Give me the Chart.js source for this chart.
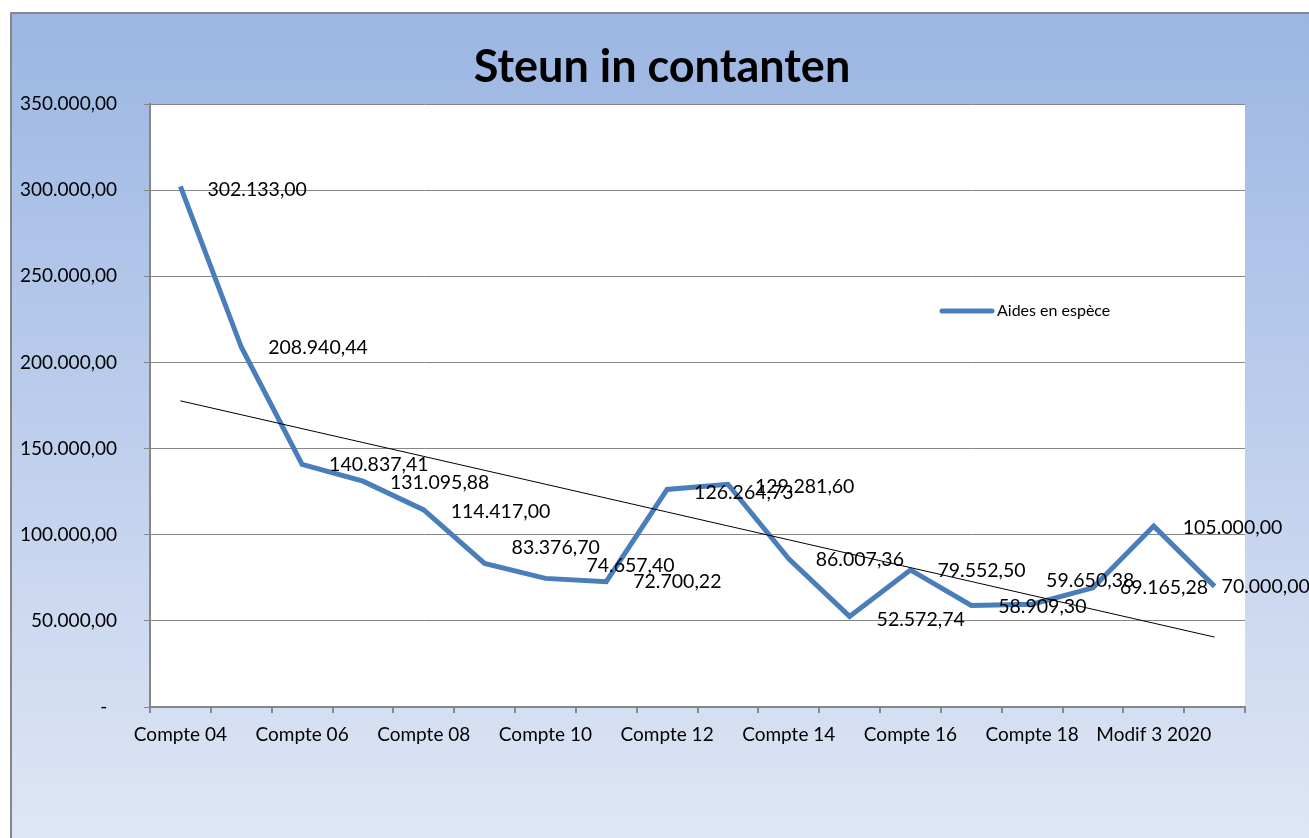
<!DOCTYPE html>
<html>
<head>
<meta charset="utf-8">
<script src="https://cdn.jsdelivr.net/npm/chart.js@4.4.1/dist/chart.umd.min.js"></script>
<style>
  html, body { margin: 0; padding: 0; background: #ffffff; }
  #wrap { width: 1309px; height: 838px; position: relative; }
</style>
</head>
<body>
<div id="wrap"><canvas id="lineChart"></canvas></div>
<script>
let categories = [
    'Compte 04', 'Compte 05', 'Compte 06', 'Compte 07', 'Compte 08', 'Compte 09',
    'Compte 10', 'Compte 11', 'Compte 12', 'Compte 13', 'Compte 14', 'Compte 15',
    'Compte 16', 'Compte 17', 'Compte 18', 'Compte 19', 'Modif 3 2020', 'Budget 2021'
];
let aidesEnEspece = [
    302133.00, 208940.44, 140837.41, 131095.88, 114417.00, 83376.70,
    74657.40, 72700.22, 126264.73, 129281.60, 86007.36, 52572.74,
    79552.50, 58909.30, 59650.38, 69165.28, 105000.00, 70000.00
];
let yTicks = [0, 50000, 100000, 150000, 200000, 250000, 300000, 350000];
let seriesName = 'Aides en espèce';
let chartTitle = 'Steun in contanten';

// label nudges (px) where the labels were moved by hand in the original
let labelDx = [27, 27, 27, 27, 27, 27, 41, 27, 27, 27, 27, 27, 27, 27, 14, 27, 29, 7];
let labelDy = [3, 1, 0, 2, 2, -16, -13, 0, 3, 2, 1, 3, 1, 1, -24, 0, 2, 0];

const FONT = 'Lato, "Open Sans", sans-serif';
const LINE_BLUE = '#4a7ebb';
const GREY = '#868686';

function formatNumber(value) {
    if (value === 0) {
        return '-  ';
    }
    let parts = value.toFixed(2).split('.');
    let whole = parts[0].replace(/\B(?=(\d{3})+(?!\d))/g, '.');
    return whole + ',' + parts[1];
}

function linearTrend(values) {
    let n = values.length;
    let sx = 0, sy = 0, sxy = 0, sxx = 0;
    values.forEach((v, i) => {
        sx += i; sy += v; sxy += i * v; sxx += i * i;
    });
    let slope = (n * sxy - sx * sy) / (n * sxx - sx * sx);
    let intercept = (sy - slope * sx) / n;
    return values.map((v, i) => intercept + slope * i);
}

const backgroundPlugin = {
    id: 'excelBackground',
    beforeDraw(chart) {
        let ctx = chart.ctx;
        let area = chart.chartArea;
        ctx.save();
        ctx.fillStyle = '#ffffff';
        ctx.fillRect(0, 0, chart.width, chart.height);
        let grad = ctx.createLinearGradient(0, 12, 0, chart.height);
        grad.addColorStop(0, '#9bb6e3');
        grad.addColorStop(1, '#dfe6f5');
        ctx.fillStyle = grad;
        ctx.fillRect(10, 12, chart.width - 10, chart.height - 12);
        ctx.strokeStyle = GREY;
        ctx.lineWidth = 2;
        ctx.beginPath();
        ctx.moveTo(11, chart.height);
        ctx.lineTo(11, 13);
        ctx.lineTo(chart.width, 13);
        ctx.stroke();
        ctx.fillStyle = '#ffffff';
        ctx.fillRect(area.left, area.top, area.right - area.left, area.bottom - area.top);
        ctx.restore();
    }
};

const decorationsPlugin = {
    id: 'excelDecorations',
    afterDraw(chart) {
        let ctx = chart.ctx;
        ctx.save();
        // title
        ctx.fillStyle = '#000000';
        ctx.font = 'bold 45px ' + FONT;
        ctx.textAlign = 'center';
        ctx.textBaseline = 'middle';
        ctx.fillText(chartTitle, 662, 67);

        // data labels
        let meta = chart.getDatasetMeta(1);
        ctx.font = '19.5px ' + FONT;
        ctx.textAlign = 'left';
        ctx.textBaseline = 'middle';
        meta.data.forEach((pt, i) => {
            ctx.fillText(formatNumber(aidesEnEspece[i]), pt.x + labelDx[i], pt.y + labelDy[i]);
        });

        // legend
        ctx.strokeStyle = LINE_BLUE;
        ctx.lineWidth = 5;
        ctx.lineCap = 'round';
        ctx.beginPath();
        ctx.moveTo(942, 311);
        ctx.lineTo(992, 311);
        ctx.stroke();
        ctx.font = '16px ' + FONT;
        ctx.fillText(seriesName, 997, 311);
        ctx.restore();
    }
};

new Chart(document.getElementById('lineChart'), {
    type: 'line',
    data: {
        labels: categories,
        datasets: [
            {
                label: 'Trend',
                data: linearTrend(aidesEnEspece),
                borderColor: '#000000',
                borderWidth: 1,
                pointRadius: 0,
                order: 0
            },
            {
                label: seriesName,
                data: aidesEnEspece,
                borderColor: LINE_BLUE,
                borderWidth: 5,
                pointRadius: 0,
                tension: 0,
                borderJoinStyle: 'miter',
                order: 1
            }
        ]
    },
    options: {
        responsive: true,
        maintainAspectRatio: false,
        animation: false,
        events: [],
        layout: {
            padding: { left: 0, top: 104, right: 64, bottom: 0 }
        },
        plugins: {
            legend: { display: false },
            title: { display: false },
            tooltip: { enabled: false }
        },
        scales: {
            x: {
                offset: true,
                grid: {
                    offset: true,
                    drawOnChartArea: false,
                    drawTicks: true,
                    tickLength: 6,
                    color: GREY,
                    lineWidth: 2
                },
                border: { color: GREY, width: 2 },
                ticks: {
                    autoSkip: false,
                    maxRotation: 0,
                    padding: 10,
                    color: '#000000',
                    font: { family: FONT, size: 19 },
                    callback: function (value, index) {
                        return index % 2 === 0 ? categories[index] : '';
                    }
                },
                afterFit: function (scale) {
                    scale.height = 131;
                }
            },
            y: {
                min: 0,
                max: 350000,
                afterBuildTicks: function (scale) {
                    scale.ticks = yTicks.map(v => ({ value: v }));
                },
                grid: {
                    color: GREY,
                    lineWidth: 1,
                    tickLength: 6
                },
                border: { color: GREY, width: 2 },
                ticks: {
                    padding: 27,
                    color: '#000000',
                    font: { family: FONT, size: 19 },
                    callback: function (value) {
                        return formatNumber(value);
                    }
                },
                afterFit: function (scale) {
                    scale.width = 150;
                }
            }
        }
    },
    plugins: [backgroundPlugin, decorationsPlugin]
});
</script>
</body>
</html>
